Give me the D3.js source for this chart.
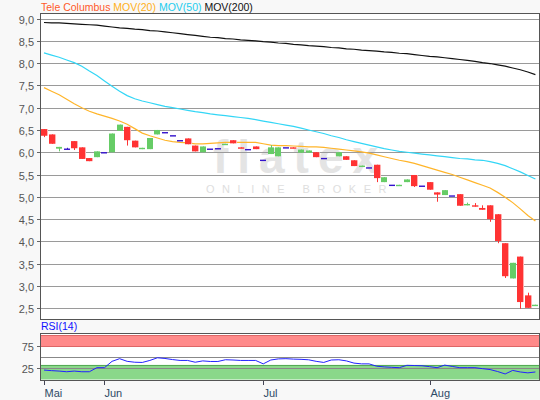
<!DOCTYPE html>
<html><head><meta charset="utf-8">
<script src="https://cdn.jsdelivr.net/npm/d3@7"></script>
<style>
html,body{margin:0;padding:0;background:#f8f8f8;}
svg{display:block;font-family:"Liberation Sans",Arial,sans-serif;}
</style></head>
<body><svg id="c" width="540" height="400"></svg>
<script>
// ---- data ----
const openV  = [6.52,6.40,6.08,6.07,6.25,6.11,5.87,5.89,5.99,6.00,6.48,6.57,6.26,6.07,6.07,6.40,6.44,6.37,6.26,6.31,6.15,6.00,6.07,6.08,6.17,6.27,6.11,6.06,6.13,5.82,5.96,5.91,6.10,6.11,5.99,5.99,6.00,5.86,null,5.91,5.91,5.82,5.68,5.65,5.72,5.33,5.26,5.25,5.33,5.49,5.24,5.33,5.10,5.04,5.02,5.06,4.81,4.81,4.75,4.81,4.61,3.96,3.17,3.66,2.79,2.56];
const highV  = [6.52,6.40,6.12,6.10,6.25,6.11,5.87,6.02,5.99,6.42,6.62,6.57,6.26,6.10,6.32,6.50,6.44,6.37,6.26,6.31,6.15,6.13,6.07,6.08,6.19,6.27,6.11,6.06,6.13,5.82,6.16,6.11,6.10,6.11,6.06,6.04,6.00,5.86,null,6.00,5.91,5.82,5.70,5.65,5.72,5.44,5.26,5.27,5.39,5.49,5.24,5.33,5.10,5.15,5.02,5.06,4.87,4.86,4.81,4.81,4.61,3.96,3.52,3.66,2.85,2.58];
const lowV   = [6.34,6.19,6.02,6.07,6.05,5.85,5.80,5.89,5.99,6.00,6.48,6.15,6.11,6.07,6.07,6.40,6.44,6.37,6.26,6.18,6.02,6.00,6.07,6.08,6.17,6.20,6.09,6.06,6.07,5.82,5.96,5.91,6.10,6.09,5.99,5.99,5.89,5.86,null,5.91,5.83,5.69,5.68,5.65,5.33,5.33,5.26,5.25,5.33,5.22,5.24,5.16,4.89,5.04,5.02,4.80,4.81,4.78,4.71,4.44,3.96,3.18,3.17,2.49,2.51,2.56];
const closeV = [6.37,6.19,6.12,6.07,6.09,5.85,5.80,6.02,5.99,6.42,6.62,6.27,6.11,6.10,6.32,6.50,6.44,6.37,6.26,6.18,6.02,6.13,6.07,6.08,6.19,6.20,6.09,6.06,6.07,5.82,6.11,6.11,6.10,6.09,6.06,6.04,5.89,5.86,null,6.00,5.83,5.69,5.70,5.65,5.42,5.44,5.26,5.27,5.39,5.24,5.24,5.16,5.05,5.15,5.02,4.80,4.84,4.78,4.71,4.50,4.01,3.22,3.52,2.64,2.51,2.58];
const mov20  = [7.45,7.37,7.29,7.19,7.09,7.00,6.92,6.86,6.81,6.76,6.70,6.63,6.53,6.43,6.37,6.32,6.27,6.24,6.22,6.21,6.19,6.19,6.20,6.21,6.22,6.22,6.22,6.22,6.22,6.19,6.16,6.15,6.15,6.14,6.13,6.12,6.12,6.11,6.09,6.07,6.05,6.03,6.01,5.98,5.94,5.90,5.86,5.82,5.79,5.75,5.70,5.65,5.60,5.55,5.50,5.44,5.38,5.32,5.26,5.20,5.10,4.99,4.87,4.73,4.58,4.46];
const mov50  = [8.23,8.18,8.13,8.07,8.01,7.93,7.82,7.72,7.60,7.48,7.37,7.27,7.20,7.15,7.11,7.07,7.03,7.00,6.97,6.94,6.91,6.89,6.86,6.84,6.82,6.80,6.78,6.76,6.73,6.70,6.67,6.64,6.61,6.58,6.54,6.50,6.46,6.42,6.37,6.33,6.28,6.24,6.20,6.16,6.12,6.08,6.05,6.02,6.00,5.98,5.96,5.94,5.92,5.90,5.88,5.86,5.85,5.83,5.82,5.79,5.75,5.70,5.63,5.56,5.48,5.40];
const mov200 = [8.91,8.90,8.90,8.89,8.88,8.87,8.86,8.85,8.83,8.81,8.79,8.78,8.76,8.75,8.73,8.72,8.70,8.68,8.66,8.64,8.62,8.60,8.58,8.57,8.55,8.54,8.52,8.51,8.50,8.48,8.47,8.45,8.44,8.42,8.41,8.39,8.38,8.37,8.35,8.34,8.32,8.31,8.29,8.28,8.27,8.25,8.24,8.22,8.21,8.19,8.17,8.15,8.14,8.12,8.10,8.08,8.06,8.04,8.01,7.99,7.96,7.93,7.89,7.85,7.80,7.74];
const rsi    = [21.3,20,19,17.5,19,17.5,17.5,26.7,26.7,41,47,41,39,38.5,43,49,47.5,45,43,43,39,42,40.7,40.7,44.6,44,43,43,43,35.3,44,46.5,47,46,45.5,44.5,41,38.5,44,44.6,42,37,35.3,35.3,30,28.5,27.5,26.7,32,31.5,31,29,26.7,32.5,29.5,26.7,26.7,26.7,24.5,22.5,18,12.5,20.5,17,15,17];
const priceTicks = [2.5,3.0,3.5,4.0,4.5,5.0,5.5,6.0,6.5,7.0,7.5,8.0,8.5,9.0];
const rsiTicks = [25,75];
const monthTickIdx = [0,8,29,51];
const monthLabels = ["Mai","Jun","Jul","Aug"];
const legendItems = [["Tele Columbus","#ff5a2a"],["MOV(20)","#ffb020"],["MOV(50)","#22ccee"],["MOV(200)","#111111"]];

// ---- layout ----
const svg = d3.select("#c");
const L = 40, R = 539, T = 13, B = 319;
const RT = 333, RB = 380;
const n = closeV.length;
const x = d3.scaleLinear().domain([0, n-1]).range([44, 535.4]);
const y = d3.scaleLinear().domain([2.5, 9]).range([308.3, 18.5]);
const yr = d3.scaleLinear().domain([0, 100]).range([379.5, 335.2]);

svg.append("rect").attr("x",L).attr("y",T).attr("width",R-L).attr("height",B-T).attr("fill","#fff");
svg.append("rect").attr("x",L).attr("y",RT).attr("width",R-L).attr("height",RB-RT).attr("fill","#fff");

// watermark
svg.append("text").attr("x",300).attr("y",173).attr("text-anchor","middle")
  .attr("font-size",46).attr("font-weight","bold").attr("letter-spacing",9)
  .attr("fill","#e4e4e4").text("flatex");
svg.append("text").attr("x",300).attr("y",193).attr("text-anchor","middle")
  .attr("font-size",11).attr("letter-spacing",7.5).attr("fill","#dedede").text("ONLINE BROKER");

// price grid
const gy = svg.append("g");
priceTicks.forEach(v=>{
  const yy = Math.round(y(v))+0.5;
  gy.append("line").attr("x1",L).attr("x2",R).attr("y1",yy).attr("y2",yy).attr("stroke","#9a9a9a");
  gy.append("line").attr("x1",L-3).attr("x2",L).attr("y1",yy).attr("y2",yy).attr("stroke","#666");
  gy.append("text").attr("x",34).attr("y",yy+4).attr("text-anchor","end").attr("font-size",11)
    .attr("fill","#555").text(d3.format(".1f")(v).replace(".",","));
});

// moving averages
const line = d3.line().x((d,i)=>x(i)).y(d=>y(d));
[[mov200,"#111"],[mov50,"#33d6f6"],[mov20,"#ffb52a"]].forEach(([arr,c])=>{
  svg.append("path").attr("d",line(arr)).attr("fill","none").attr("stroke",c).attr("stroke-width",1.2);
});

// candles
const cg = svg.append("g");
const bw = 6;
closeV.forEach((c,i)=>{
  if (c===null) return;
  const o = openV[i], h = highV[i], l = lowV[i];
  const cx = Math.round(x(i));
  if (o === c) {
    if (h !== l) cg.append("line").attr("x1",cx+0.5).attr("x2",cx+0.5).attr("y1",y(h)).attr("y2",y(l)).attr("stroke","#3311cc");
    cg.append("rect").attr("x",cx-3).attr("y",y(c)-0.6).attr("width",bw).attr("height",1.4).attr("fill","#3311cc");
    return;
  }
  const up = c > o;
  const col = up ? "#66cc66" : "#ff3333";
  cg.append("line").attr("x1",cx+0.5).attr("x2",cx+0.5).attr("y1",y(h)).attr("y2",y(l)).attr("stroke",col);
  const top = y(Math.max(o,c)), bot = y(Math.min(o,c));
  cg.append("rect").attr("x",cx-3).attr("y",top).attr("width",bw).attr("height",Math.max(1.4,bot-top)).attr("fill",col);
  if (!up) cg.append("rect").attr("x",cx+3).attr("y",top).attr("width",1).attr("height",Math.max(1.4,bot-top)).attr("fill","#ffb0b0");
});

svg.append("rect").attr("x",L+0.5).attr("y",T+0.5).attr("width",R-L).attr("height",B-T).attr("fill","none").attr("stroke","#555");

// legend
const lg = svg.append("text").attr("x",41).attr("y",11).attr("font-size",10.5);
legendItems.forEach(([t,c],i)=>{
  lg.append("tspan").attr("fill",c).text((i?" ":"")+t);
});

// RSI panel
svg.append("rect").attr("x",L).attr("y",yr(100)).attr("width",R-L).attr("height",yr(75)-yr(100)).attr("fill","#ff8a8a");
svg.append("rect").attr("x",L).attr("y",yr(33)).attr("width",R-L).attr("height",yr(0)-yr(33)).attr("fill","#8ad88a");
[[100,"#dd6666"],[75,"#dd6666"],[33,"#55aa55"],[0,"#55aa55"]].forEach(([v,c])=>{
  const yy=Math.round(yr(v))+0.5;
  svg.append("line").attr("x1",L).attr("x2",R).attr("y1",yy).attr("y2",yy).attr("stroke",c);
});
[50,25].forEach(v=>{
  const yy=Math.round(yr(v))+0.5;
  svg.append("line").attr("x1",L).attr("x2",R).attr("y1",yy).attr("y2",yy).attr("stroke","#888");
});
rsiTicks.forEach(v=>{
  const yy=Math.round(yr(v))+0.5;
  svg.append("line").attr("x1",L-3).attr("x2",L).attr("y1",yy).attr("y2",yy).attr("stroke","#666");
  svg.append("text").attr("x",34).attr("y",yy+4).attr("text-anchor","end").attr("font-size",11).attr("fill","#555").text(v);
});
svg.append("path").attr("d",d3.line().x((d,i)=>x(i)).y(d=>yr(d))(rsi)).attr("fill","none").attr("stroke","#2222ff").attr("stroke-width",1);
svg.append("rect").attr("x",L+0.5).attr("y",RT+0.5).attr("width",R-L).attr("height",RB-RT).attr("fill","none").attr("stroke","#555");
svg.append("text").attr("x",41).attr("y",330).attr("font-size",10.5).attr("fill","#1111ff").text("RSI(14)");

// x axis
const xa = svg.append("g");
monthTickIdx.forEach((idx,i)=>{
  const xx = Math.round(x(idx))+0.5;
  xa.append("line").attr("x1",xx).attr("x2",xx).attr("y1",RB+1).attr("y2",RB+5).attr("stroke","#445");
  xa.append("text").attr("x",xx).attr("y",397).attr("font-size",11).attr("fill","#2f4a66").text(monthLabels[i]);
});
</script></body></html>
